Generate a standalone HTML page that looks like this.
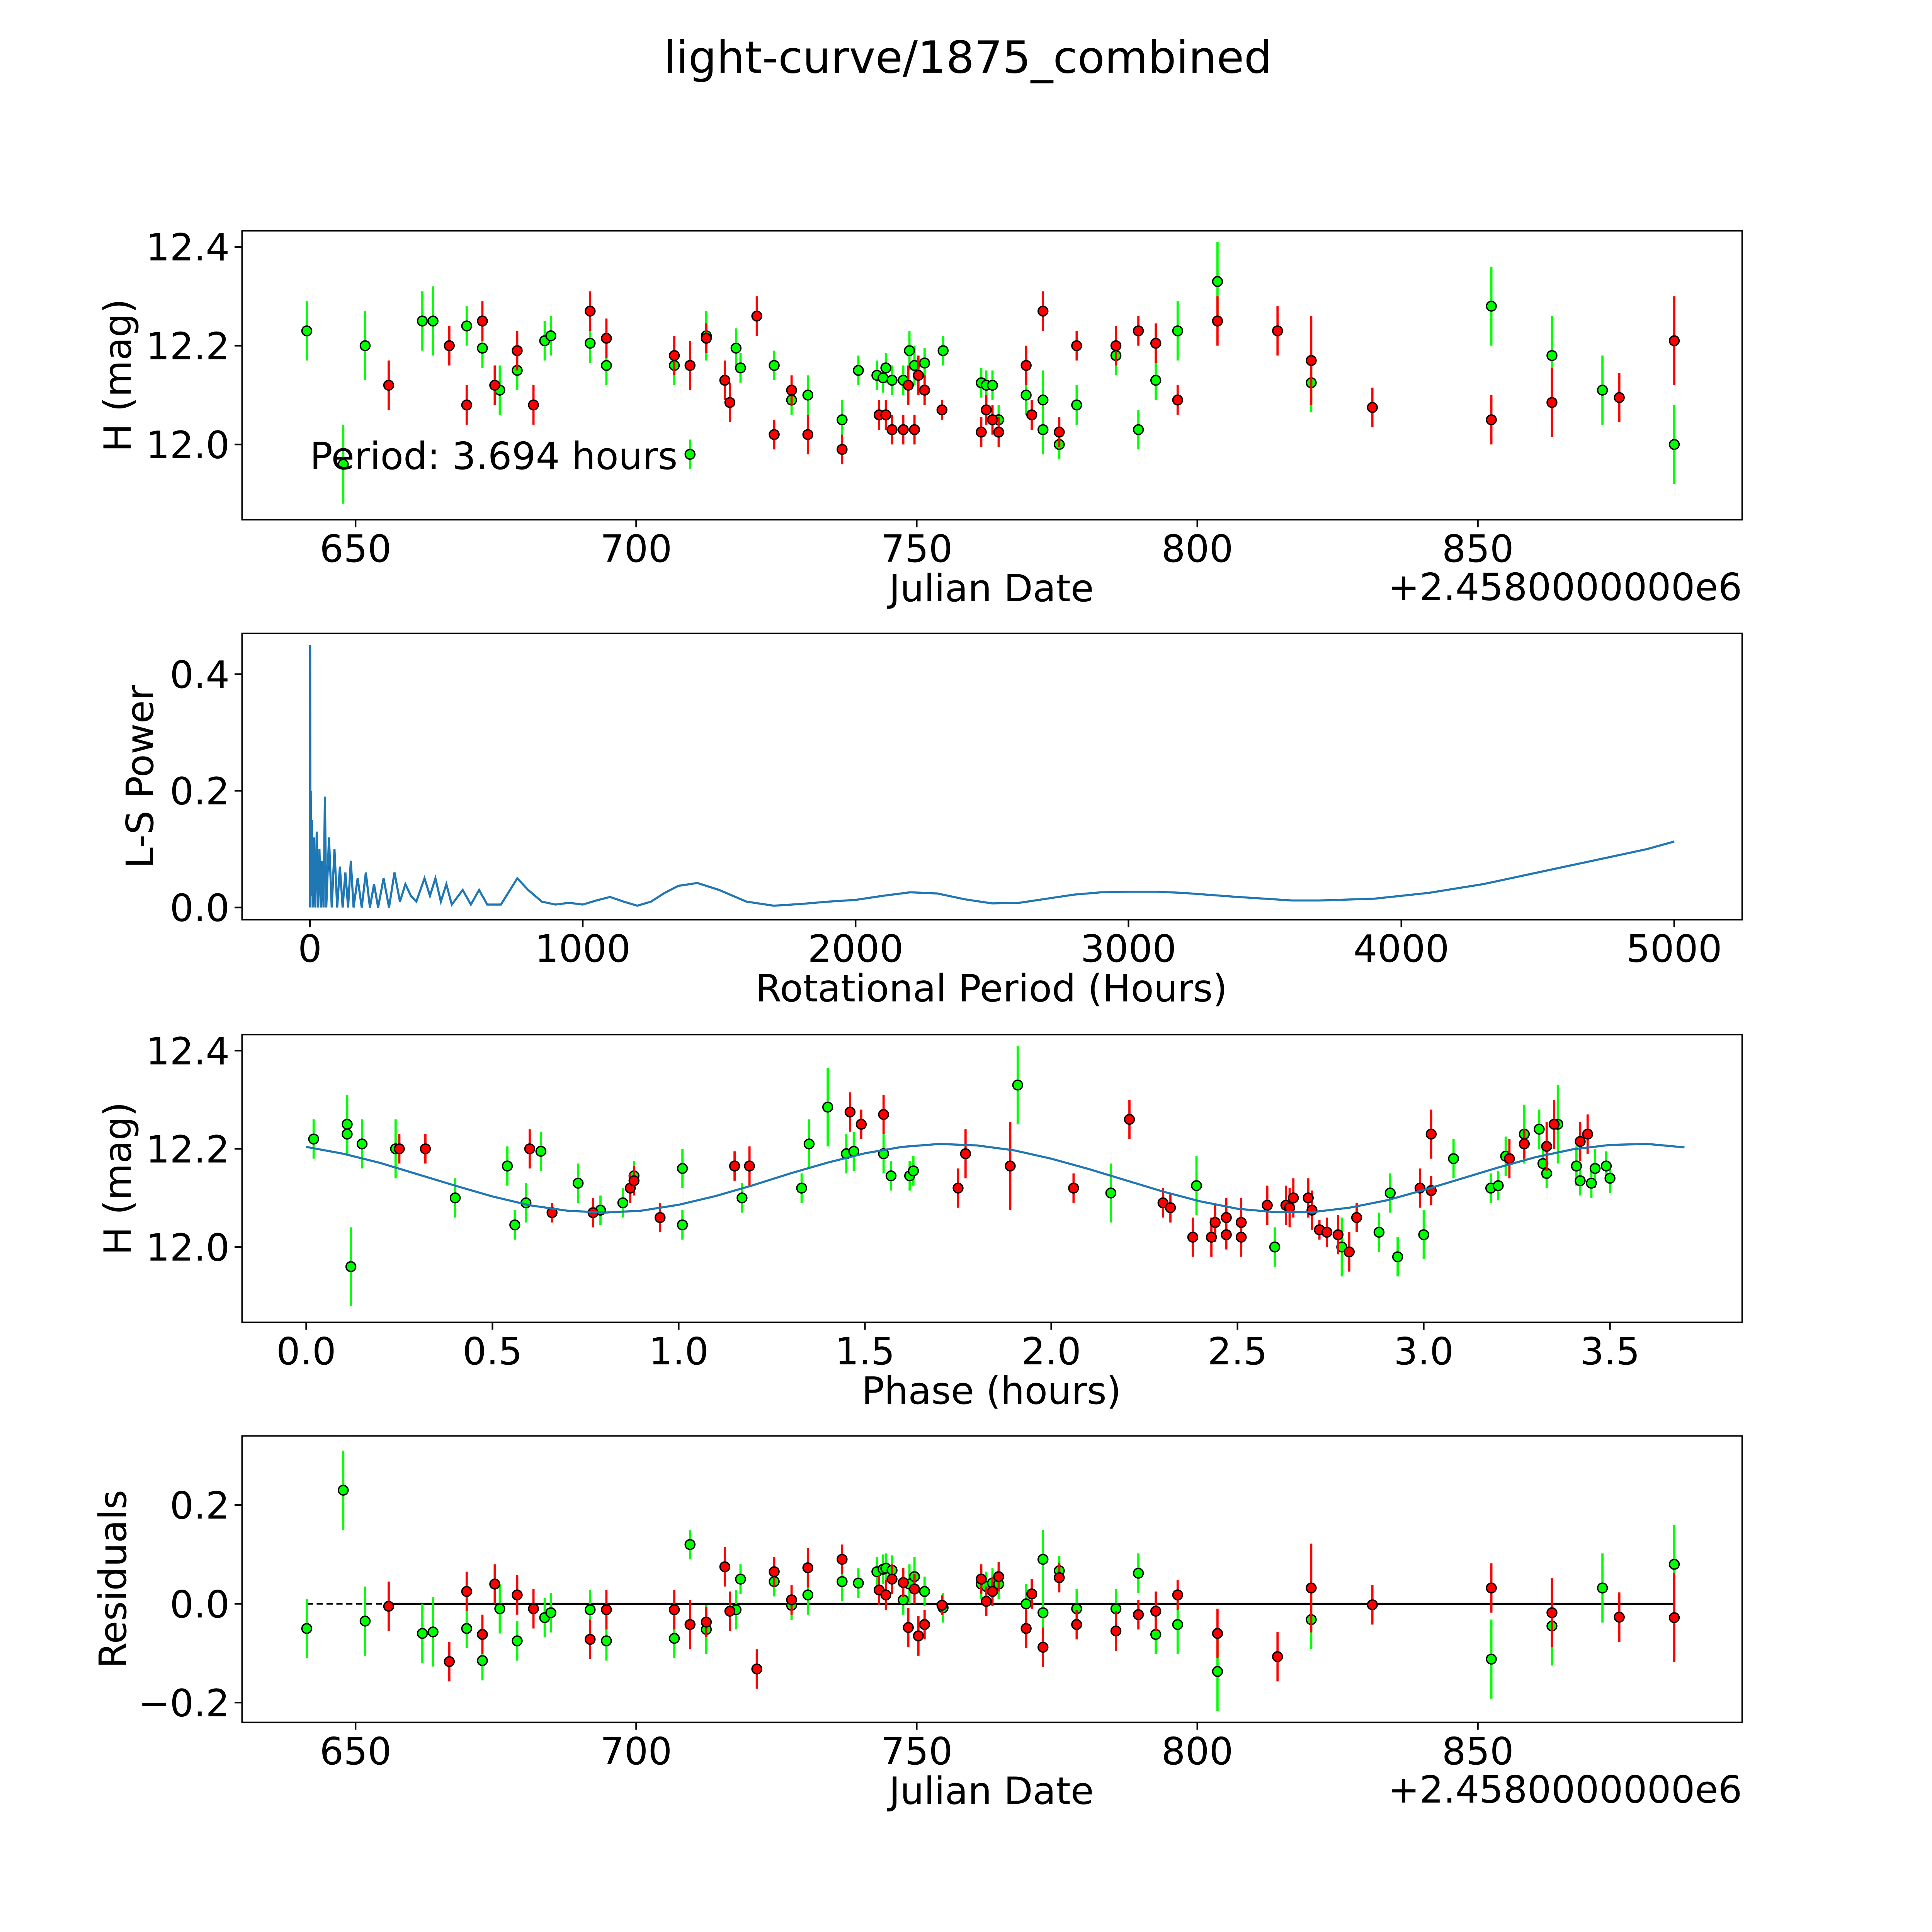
<!DOCTYPE html>
<html><head><meta charset="utf-8"><style>
html,body{margin:0;padding:0;background:#fff;width:5400px;height:5400px;overflow:hidden;}
svg{display:block;font-family:"DejaVu Sans","Liberation Sans",sans-serif;}
</style></head><body>
<svg id="fig" xmlns="http://www.w3.org/2000/svg" width="5400" height="5400" viewBox="0 0 1690 1690">
<rect x="0" y="0" width="1690" height="1690" fill="#fff"/>
<text x="784" y="59" font-size="36" text-anchor="middle">light-curve/1875_combined</text>
</svg>
<script>
// ---- Panel 1: light curve (Julian date offset from 2458000) ----
const lcGreenDate=[641.3,647.8,651.7,661.9,663.8,669.8,672.6,675.7,678.8,683.7,684.8,691.8,694.7,706.8,709.6,712.5,717.8,718.6,724.6,727.7,730.6,736.7,739.6,742.9,744,744.5,745.6,747.6,748.7,749.6,751.4,754.7,761.5,762.4,763.5,764.6,769.5,772.5,772.5,775.4,778.5,785.5,789.5,792.6,796.5,803.6,820.3,852.4,863.2,872.2,885];
const lcGreenMag=[12.23,11.96,12.20,12.25,12.25,12.24,12.195,12.11,12.15,12.21,12.22,12.205,12.16,12.16,11.98,12.22,12.195,12.155,12.16,12.09,12.10,12.05,12.15,12.14,12.135,12.155,12.13,12.13,12.19,12.16,12.165,12.19,12.125,12.12,12.12,12.05,12.10,12.09,12.03,12.0,12.08,12.18,12.03,12.13,12.23,12.33,12.125,12.28,12.18,12.11,12.0];
const lcGreenErr=[0.06,0.08,0.07,0.06,0.07,0.04,0.04,0.05,0.04,0.04,0.04,0.04,0.04,0.04,0.03,0.05,0.04,0.03,0.03,0.03,0.04,0.04,0.03,0.03,0.03,0.03,0.03,0.03,0.04,0.04,0.03,0.03,0.03,0.03,0.03,0.03,0.04,0.06,0.05,0.03,0.04,0.04,0.04,0.04,0.06,0.08,0.06,0.08,0.08,0.07,0.08];
const lcRedDate=[655.9,666.7,669.8,672.6,674.8,678.8,681.7,691.8,694.7,706.8,709.6,712.5,715.8,716.7,721.5,724.6,727.7,730.6,736.7,743.3,744.5,745.6,747.6,748.5,749.6,750.3,751.4,754.5,761.5,762.4,763.5,764.6,769.5,770.5,772.5,775.4,778.5,785.5,789.5,792.6,796.5,803.6,814.3,820.3,831.2,852.4,863.2,875.2,885];
const lcRedMag=[12.12,12.20,12.08,12.25,12.12,12.19,12.08,12.27,12.215,12.18,12.16,12.215,12.13,12.085,12.26,12.02,12.11,12.02,11.99,12.06,12.06,12.03,12.03,12.12,12.03,12.14,12.11,12.07,12.025,12.07,12.05,12.025,12.16,12.06,12.27,12.025,12.2,12.2,12.23,12.205,12.09,12.25,12.23,12.17,12.075,12.05,12.085,12.095,12.21];
const lcRedErr=[0.05,0.04,0.04,0.04,0.04,0.04,0.04,0.04,0.04,0.04,0.05,0.03,0.04,0.04,0.04,0.03,0.03,0.04,0.03,0.03,0.03,0.03,0.03,0.04,0.03,0.04,0.03,0.02,0.03,0.03,0.03,0.03,0.04,0.03,0.04,0.03,0.03,0.04,0.03,0.04,0.03,0.05,0.05,0.09,0.04,0.05,0.07,0.05,0.09];
const lcXTicks=[650,700,750,800,850];
const lcYTicks=[12.0,12.2,12.4];

// ---- Panel 2: periodogram ----
const lsPeriod=[0,1,2,3,5,8,10,15,20,25,30,35,40,45,50,55,60,70,80,90,100,110,120,130,140,150,160,175,190,205,220,235,250,270,290,310,330,350,370,390,420,440,460,480,500,520,560,590,620,650,700,760,800,850,900,950,1000,1050,1100,1150,1200,1250,1300,1350,1420,1500,1600,1700,1800,1900,2000,2100,2200,2300,2400,2500,2600,2700,2800,2900,3000,3100,3200,3400,3600,3700,3900,4100,4300,4500,4700,4900,5000];
const lsPower=[0,0.45,0.05,0.2,0.02,0.15,0.0,0.12,0,0.13,0,0.1,0,0.08,0,0.19,0,0.12,0,0.1,0,0.07,0,0.06,0,0.08,0,0.05,0,0.06,0,0.04,0,0.05,0,0.06,0.01,0.04,0.02,0.01,0.05,0.02,0.05,0.01,0.04,0.005,0.03,0.005,0.03,0.005,0.005,0.05,0.03,0.01,0.005,0.008,0.005,0.012,0.018,0.01,0.003,0.01,0.025,0.037,0.042,0.03,0.01,0.003,0.006,0.01,0.013,0.02,0.026,0.024,0.014,0.007,0.008,0.015,0.022,0.026,0.027,0.027,0.025,0.018,0.012,0.012,0.015,0.025,0.04,0.06,0.08,0.1,0.113];
const lsXTicks=[0,1000,2000,3000,4000,5000];
const lsYTicks=[0.0,0.2,0.4];

// ---- Panel 3: phased curve ----
const phGreenPhase=[0.02,0.11,0.11,0.12,0.15,0.24,0.40,0.54,0.56,0.59,0.63,0.73,0.79,0.85,0.88,1.01,1.01,1.17,1.33,1.35,1.40,1.45,1.47,1.55,1.57,1.62,1.63,1.91,2.16,2.39,2.60,2.78,2.88,2.91,2.93,3.00,3.08,3.18,3.20,3.22,3.27,3.31,3.32,3.33,3.36,3.41,3.42,3.45,3.46,3.49,3.50];
const phGreenMag=[12.22,12.25,12.23,11.96,12.21,12.20,12.10,12.165,12.045,12.09,12.195,12.13,12.075,12.09,12.145,12.16,12.045,12.10,12.12,12.21,12.285,12.19,12.195,12.19,12.145,12.145,12.155,12.33,12.11,12.125,12.0,12.0,12.03,12.11,11.98,12.025,12.18,12.12,12.125,12.185,12.23,12.24,12.17,12.15,12.25,12.165,12.135,12.13,12.16,12.165,12.14];
const phGreenErr=[0.04,0.06,0.04,0.08,0.05,0.06,0.04,0.04,0.03,0.04,0.04,0.04,0.03,0.03,0.03,0.04,0.03,0.03,0.03,0.05,0.08,0.04,0.04,0.04,0.03,0.03,0.03,0.08,0.06,0.06,0.04,0.06,0.04,0.04,0.04,0.05,0.04,0.03,0.03,0.04,0.06,0.04,0.03,0.03,0.08,0.04,0.03,0.03,0.04,0.03,0.03];
const phRedPhase=[0.25,0.32,0.60,0.66,0.77,0.87,0.88,0.95,1.15,1.19,1.46,1.49,1.55,1.75,1.77,1.89,2.06,2.21,2.30,2.32,2.38,2.43,2.44,2.47,2.47,2.51,2.51,2.58,2.63,2.65,2.64,2.69,2.70,2.72,2.74,2.77,2.80,2.82,2.99,3.02,3.02,3.23,3.27,3.33,3.35,3.42,3.44];
const phRedMag=[12.20,12.20,12.20,12.07,12.07,12.12,12.135,12.06,12.165,12.165,12.275,12.25,12.27,12.12,12.19,12.165,12.12,12.26,12.09,12.08,12.02,12.02,12.05,12.06,12.025,12.05,12.02,12.085,12.085,12.10,12.08,12.10,12.075,12.035,12.03,12.025,11.99,12.06,12.12,12.115,12.23,12.18,12.21,12.205,12.25,12.215,12.23];
const phRedErr=[0.03,0.03,0.04,0.02,0.03,0.03,0.03,0.03,0.03,0.04,0.04,0.03,0.04,0.04,0.05,0.09,0.03,0.04,0.03,0.03,0.04,0.04,0.04,0.04,0.03,0.05,0.04,0.04,0.04,0.04,0.04,0.04,0.04,0.02,0.03,0.04,0.04,0.03,0.04,0.03,0.05,0.04,0.03,0.05,0.05,0.04,0.04];
const fitPhase=[0,0.1,0.2,0.3,0.4,0.5,0.6,0.7,0.8,0.9,1.0,1.1,1.2,1.3,1.4,1.5,1.6,1.7,1.8,1.9,2.0,2.1,2.2,2.3,2.4,2.5,2.6,2.7,2.8,2.9,3.0,3.1,3.2,3.3,3.4,3.5,3.6,3.7];
const fitMag=[12.204,12.190,12.171,12.148,12.125,12.103,12.085,12.074,12.070,12.074,12.086,12.104,12.126,12.150,12.172,12.191,12.204,12.210,12.207,12.197,12.180,12.159,12.136,12.113,12.093,12.078,12.071,12.071,12.080,12.095,12.116,12.139,12.162,12.183,12.199,12.208,12.210,12.203];
const phXTicks=[0.0,0.5,1.0,1.5,2.0,2.5,3.0,3.5];
const phYTicks=[12.0,12.2,12.4];

// ---- Panel 4: residuals ----
const resGreen=[-0.05,0.23,-0.035,-0.06,-0.057,-0.05,-0.115,-0.01,-0.075,-0.028,-0.018,-0.012,-0.075,-0.07,0.12,-0.052,-0.012,0.05,0.045,-0.003,0.018,0.045,0.042,0.065,0.07,0.072,0.068,0.008,0.04,0.055,0.025,-0.008,0.04,0.035,0.042,0.04,0.0,0.09,-0.018,0.067,-0.01,-0.01,0.062,-0.062,-0.042,-0.137,-0.032,-0.112,-0.045,0.032,0.08];
const resRed=[-0.005,-0.117,0.025,-0.062,0.04,0.018,-0.01,-0.072,-0.012,-0.012,-0.042,-0.037,0.075,-0.015,-0.132,0.065,0.008,0.073,0.09,0.028,0.018,0.05,0.043,-0.048,0.03,-0.065,-0.042,-0.003,0.05,0.005,0.025,0.055,-0.05,0.02,-0.088,0.053,-0.042,-0.055,-0.022,-0.015,0.018,-0.06,-0.107,0.032,-0.002,0.032,-0.018,-0.027,-0.028];
const resYTicks=[-0.2,0.0,0.2];

const NS='http://www.w3.org/2000/svg';
const svg=document.getElementById('fig');
function mk(tag,attrs,parent){const e=document.createElementNS(NS,tag);for(const k in attrs)e.setAttribute(k,attrs[k]);(parent||svg).appendChild(e);return e;}
function scale(d0,d1,p0,p1){return v=>p0+(v-d0)*(p1-p0)/(d1-d0);}

const L=196,R=1411,FS=30.5;
function frame(name,top,bot,xs,ys,xt,yt,xfmt,yfmt,xlabel,ylabel,ylabX){
  const g=mk('g',{});
  
  
  xt.forEach(t=>{const x=xs(t);
    const tk=mk('line',{x1:x,x2:x,y1:bot,y2:bot+6,stroke:'#000','stroke-width':1.3},g);
    
    
    const tl=mk('text',{x:x,y:bot+34,'font-size':FS,'text-anchor':'middle'},g);tl.textContent=xfmt(t);
    
    });
  yt.forEach(t=>{const y=ys(t);
    const tk=mk('line',{x1:L-6,x2:L,y1:y,y2:y,stroke:'#000','stroke-width':1.3},g);
    
    
    const tl=mk('text',{x:L-10,y:y+11,'font-size':FS,'text-anchor':'end'},g);tl.textContent=yfmt(t);
    
    });
  const xl=mk('text',{x:803,y:bot+66,'font-size':FS,'text-anchor':'middle'},g);xl.textContent=xlabel;
  
  
  const cy=(top+bot)/2;
  const yl=mk('text',{x:ylabX,y:cy,'font-size':FS,'text-anchor':'middle',transform:`rotate(-90 ${ylabX} ${cy})`},g);yl.textContent=ylabel;
  
  
  return g;
}
function border(top,bot){const b=mk('rect',{x:L,y:top,width:R-L,height:bot-top,fill:'none',stroke:'#000','stroke-width':1.1});
  
  }
function pts(xsArr,ysArr,errArr,xs,ys,color,name){
  const g=mk('g',{});
  
  
  xsArr.forEach((d,i)=>{const x=xs(d);
    if(errArr){const e=mk('line',{x1:x,x2:x,y1:ys(ysArr[i]-errArr[i]),y2:ys(ysArr[i]+errArr[i]),stroke:color,'stroke-width':1.8},g);
      
      }});
  xsArr.forEach((d,i)=>{const c=mk('circle',{cx:xs(d),cy:ys(ysArr[i]),r:3.9,fill:color,stroke:'#000','stroke-width':1.1},g);
    
    });
}
const f1=v=>v.toFixed(1), f0=v=>String(v);
const fneg=v=>(v<0?'\u2212':'')+Math.abs(v).toFixed(1);

// Panel 1
{const top=187,bot=421;const xs=scale(650,850,288,1197),ys=scale(12,12.4,360,200);
 frame('light-curve-panel',top,bot,xs,ys,lcXTicks,lcYTicks,f0,f1,'Julian Date','H (mag)',106);
 pts(lcGreenDate,lcGreenMag,lcGreenErr,xs,ys,'#00ff00','green-series');
 pts(lcRedDate,lcRedMag,lcRedErr,xs,ys,'#ff0000','red-series');
 const pt=mk('text',{x:251,y:380,'font-size':FS});pt.textContent='Period: 3.694 hours';
 
 
 const off=mk('text',{x:1411,y:486,'font-size':FS,'text-anchor':'end'});off.textContent='+2.4580000000e6';
 
 
 border(top,bot);}
// Panel 2
{const top=513,bot=745;const xs=scale(0,5000,251,1356),ys=scale(0,0.4,735,546);
 frame('periodogram-panel',top,bot,xs,ys,lsXTicks,lsYTicks,f0,f1,'Rotational Period (Hours)','L-S Power',124);
 const p=mk('polyline',{points:lsPeriod.map((d,i)=>xs(d)+','+ys(lsPower[i])).join(' '),fill:'none',stroke:'#1f77b4','stroke-width':1.7});
 
 
 border(top,bot);}
// Panel 3
{const top=838,bot=1071;const xs=scale(0,3.5,248,1304),ys=scale(12,12.4,1010,851);
 frame('phase-panel',top,bot,xs,ys,phXTicks,phYTicks,f1,f1,'Phase (hours)','H (mag)',106);
 pts(phGreenPhase,phGreenMag,phGreenErr,xs,ys,'#00ff00','phase-green-series');
 pts(phRedPhase,phRedMag,phRedErr,xs,ys,'#ff0000','phase-red-series');
 const p=mk('polyline',{points:fitPhase.map((d,i)=>xs(d)+','+ys(fitMag[i])).join(' '),fill:'none',stroke:'#1f77b4','stroke-width':1.7});
 
 
 border(top,bot);}
// Panel 4
{const top=1163,bot=1395;const xs=scale(650,850,288,1197),ys=scale(0,0.2,1299,1219);
 frame('residuals-panel',top,bot,xs,ys,lcXTicks,resYTicks,f0,fneg,'Julian Date','Residuals',102);
 const dl=mk('line',{x1:xs(lcGreenDate[0]),x2:xs(885),y1:ys(0),y2:ys(0),stroke:'#000','stroke-width':1.3,'stroke-dasharray':'5,3'});
 
 
 const sl=mk('line',{x1:xs(lcRedDate[0]),x2:xs(885),y1:ys(0),y2:ys(0),stroke:'#000','stroke-width':1.7});
 
 
 pts(lcGreenDate,resGreen,lcGreenErr,xs,ys,'#00ff00','residual-green-series');
 pts(lcRedDate,resRed,lcRedErr,xs,ys,'#ff0000','residual-red-series');
 const off=mk('text',{x:1411,y:1460,'font-size':FS,'text-anchor':'end'});off.textContent='+2.4580000000e6';
 
 
 border(top,bot);}
</script>
</body></html>
